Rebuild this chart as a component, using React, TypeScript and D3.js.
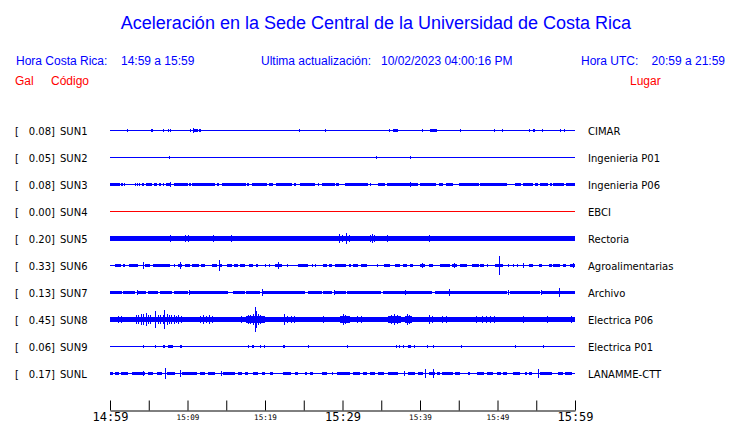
import { useRef, useEffect } from "react";
import { select, scaleLinear, scalePoint, axisBottom } from "d3";

// [start minute, end minute, peak acceleration in Gal], minutes counted from 14:59
type Seg = [number, number, number];

const title = "Aceleración en la Sede Central de la Universidad de Costa Rica";
const localLabel = "Hora Costa Rica:";
const localRange = "14:59 a 15:59";
const updateLabel = "Ultima actualización:";
const updateTime = "10/02/2023 04:00:16 PM";
const utcLabel = "Hora UTC:";
const utcRange = "20:59 a 21:59";

const stations = ["SUN1", "SUN2", "SUN3", "SUN4", "SUN5", "SUN6", "SUN7", "SUN8", "SUN9", "SUNL"];
const places = [
  "CIMAR", "Ingenieria P01", "Ingenieria P06", "EBCI", "Rectoria",
  "Agroalimentarias", "Archivo", "Electrica P06", "Electrica P01", "LANAMME-CTT",
];
const peaks = [0.08, 0.05, 0.08, 0.0, 0.2, 0.33, 0.13, 0.45, 0.06, 0.17];
const tickLabels = ["14:59", "", "15:09", "", "15:19", "", "15:29", "", "15:39", "", "15:49", "", "15:59"];
const bigTicks = ["14:59", "15:29", "15:59"];

const sun1: Seg[] = [
  [2.2, 2.3, 0.02], [5.3, 5.6, 0.04], [6.9, 7.0, 0.04], [7.5, 7.55, 0.03], [7.8, 7.85, 0.02],
  [10.3, 10.5, 0.04], [10.7, 10.8, 0.08], [10.9, 11.3, 0.05], [11.5, 11.7, 0.04],
  [24.4, 24.4, 0.03], [27.8, 27.9, 0.04], [36.0, 36.0, 0.03], [36.5, 37.2, 0.04],
  [40.2, 40.3, 0.04], [41.3, 42.2, 0.05], [45.2, 45.2, 0.03], [49.5, 49.5, 0.03],
  [50.6, 50.6, 0.03], [54.0, 54.0, 0.02], [54.6, 54.85, 0.03], [55.8, 55.8, 0.02],
  [58.0, 58.25, 0.03], [58.6, 58.6, 0.02],
];
const sun2: Seg[] = [[7.6, 7.8, 0.05], [34.3, 34.3, 0.02], [38.7, 38.9, 0.05]];
const sun3: Seg[] = [
  [0, 0.5, 0.03], [0.55, 1.3, 0.03], [1.4, 1.4, 0.02], [1.6, 1.6, 0.02], [1.85, 1.85, 0.02],
  [3.2, 3.2, 0.02], [3.45, 3.45, 0.02], [3.7, 3.9, 0.03], [4.1, 4.1, 0.02], [4.3, 4.4, 0.02],
  [4.6, 5.4, 0.04], [5.7, 6.1, 0.03], [6.3, 6.6, 0.04], [6.8, 7.0, 0.03], [7.2, 7.9, 0.04],
  [7.7, 7.7, 0.08], [8.3, 10.0, 0.04], [10.2, 10.5, 0.03], [10.6, 13.5, 0.04], [13.8, 14.1, 0.03],
  [14.4, 17.5, 0.04], [17.7, 17.9, 0.03], [18.3, 20.2, 0.04], [20.5, 21.0, 0.03], [21.4, 23.5, 0.04],
  [23.8, 24.0, 0.02], [24.5, 26.5, 0.04], [26.8, 26.9, 0.02], [27.3, 29.0, 0.04], [29.2, 29.6, 0.03],
  [30.3, 33.3, 0.04], [33.6, 33.6, 0.02], [34.6, 35.5, 0.03], [35.7, 39.8, 0.04], [38.7, 38.7, 0.06],
  [40.0, 42.1, 0.04], [42.4, 43.0, 0.04], [43.4, 44.3, 0.04], [45.0, 47.6, 0.04], [47.8, 51.2, 0.04],
  [52.3, 53.0, 0.03], [53.3, 54.6, 0.04], [54.9, 55.2, 0.02], [55.5, 56.5, 0.03], [56.8, 57.0, 0.02],
  [57.2, 58.6, 0.04], [58.9, 60, 0.03],
];
const sun4: Seg[] = [];
const sun5: Seg[] = [
  [0, 26.9, 0.07], [26.9, 29.5, 0.06], [29.5, 60, 0.07],
  [0.6, 0.6, 0.09], [1.9, 1.9, 0.08], [2.3, 2.3, 0.08], [3.9, 3.9, 0.09], [4.8, 4.8, 0.09], [5.0, 5.0, 0.08],
  [7.3, 7.3, 0.09], [7.75, 7.75, 0.11], [7.95, 7.95, 0.09], [9.7, 9.7, 0.1], [10.0, 10.0, 0.11],
  [11.8, 11.8, 0.08], [13.3, 13.3, 0.1], [15.6, 15.6, 0.1], [15.8, 15.8, 0.09], [16.4, 16.4, 0.08],
  [16.9, 16.9, 0.08], [20.2, 20.2, 0.08], [21.7, 21.7, 0.08], [23.2, 23.2, 0.08], [26.0, 26.0, 0.09],
  [29.6, 29.6, 0.14], [29.9, 29.9, 0.1], [30.45, 30.45, 0.2], [30.8, 30.8, 0.1], [32.0, 32.0, 0.08],
  [33.6, 33.6, 0.12], [33.85, 33.85, 0.15], [34.1, 34.1, 0.11], [35.8, 35.8, 0.1], [36.1, 36.1, 0.09],
  [38.1, 38.1, 0.09], [40.0, 40.0, 0.08], [41.1, 41.1, 0.1], [43.9, 43.9, 0.09], [46.0, 46.0, 0.08],
  [48.2, 48.2, 0.08], [51.8, 51.8, 0.08], [55.5, 55.5, 0.08], [59.1, 59.1, 0.08],
];
const sun6: Seg[] = [
  [0.65, 1.4, 0.04], [1.7, 1.95, 0.02], [2.45, 3.65, 0.04], [4.2, 4.45, 0.1], [4.5, 5.15, 0.04],
  [5.6, 5.8, 0.02], [5.8, 7.75, 0.04], [8.2, 8.2, 0.02], [8.75, 9.35, 0.04], [9.0, 9.0, 0.1],
  [9.7, 10.3, 0.04], [10.6, 11.5, 0.04], [11.8, 12.2, 0.02], [13.1, 13.8, 0.05], [14.05, 14.05, 0.18],
  [14.2, 14.5, 0.05], [15.05, 15.7, 0.04], [16.05, 16.5, 0.04], [16.8, 17.4, 0.04], [17.9, 18.4, 0.04],
  [18.8, 19.05, 0.04], [20.0, 20.0, 0.02], [20.5, 20.5, 0.02], [21.3, 22.15, 0.04], [21.7, 21.7, 0.11],
  [22.8, 22.8, 0.02], [24.3, 25.6, 0.04], [26.0, 26.0, 0.02], [26.45, 26.45, 0.02], [27.5, 27.95, 0.04],
  [28.25, 28.6, 0.03], [29.0, 30.45, 0.04], [30.9, 31.1, 0.02], [31.3, 32.0, 0.04], [32.4, 33.1, 0.04],
  [34.4, 34.4, 0.02], [35.3, 36.1, 0.04], [36.8, 37.4, 0.04], [37.8, 38.3, 0.04], [38.7, 39.05, 0.04],
  [40.0, 40.6, 0.04], [40.3, 40.3, 0.06], [41.1, 41.7, 0.04], [42.6, 43.9, 0.04], [44.1, 44.8, 0.04],
  [44.4, 44.4, 0.08], [45.2, 46.0, 0.03], [46.7, 47.65, 0.04], [47.8, 48.2, 0.02], [48.7, 48.7, 0.02],
  [49.7, 50.75, 0.04], [50.24, 50.24, 0.33], [51.4, 51.4, 0.02], [52.0, 52.0, 0.02], [52.5, 52.7, 0.03],
  [53.3, 53.3, 0.07], [54.0, 54.6, 0.04], [55.3, 55.7, 0.04], [56.6, 57.0, 0.04], [57.2, 58.1, 0.04],
  [58.4, 58.9, 0.04], [59.3, 60, 0.04], [59.8, 59.8, 0.08],
];
const sun7: Seg[] = [
  [0, 1.5, 0.05], [1.7, 3.2, 0.05], [3.45, 3.45, 0.08], [3.6, 4.7, 0.05], [4.95, 6.2, 0.04],
  [6.45, 8.0, 0.05], [8.2, 10.1, 0.05], [10.25, 10.25, 0.08], [10.3, 15.2, 0.05], [15.9, 17.4, 0.05],
  [17.6, 19.4, 0.05], [19.55, 19.55, 0.1], [19.8, 25.2, 0.05], [25.6, 27.3, 0.05], [27.5, 28.6, 0.05],
  [28.95, 28.95, 0.08], [29.0, 30.5, 0.05], [30.6, 33.5, 0.05], [33.6, 35.0, 0.05], [35.2, 41.5, 0.05],
  [38.0, 38.0, 0.07], [41.9, 51.2, 0.05], [43.75, 43.75, 0.11], [51.4, 51.4, 0.08], [51.6, 55.5, 0.05],
  [55.6, 55.6, 0.06], [55.8, 60, 0.05], [57.9, 57.9, 0.13],
];
const sun8: Seg[] = [
  [0, 60, 0.06],
  [0.85, 1.7, 0.08], [1.0, 1.0, 0.1], [1.4, 1.4, 0.1],
  [3.2, 5.4, 0.09], [3.3, 3.3, 0.15], [3.55, 3.55, 0.13], [4.0, 4.0, 0.2], [4.3, 4.3, 0.17],
  [4.6, 4.6, 0.21], [4.9, 4.9, 0.16], [5.2, 5.2, 0.14],
  [5.7, 9.5, 0.09], [5.85, 5.85, 0.29], [6.2, 6.2, 0.15], [6.5, 6.5, 0.13], [6.8, 6.8, 0.15],
  [7.0, 7.0, 0.33], [7.3, 7.3, 0.17], [7.6, 7.6, 0.14], [7.9, 7.9, 0.13], [8.2, 8.2, 0.15],
  [8.5, 8.5, 0.12], [8.8, 8.8, 0.13], [9.2, 9.2, 0.11],
  [11.4, 13.55, 0.09], [11.6, 11.6, 0.12], [12.0, 12.0, 0.13], [12.4, 12.4, 0.11], [12.8, 12.8, 0.13],
  [13.2, 13.2, 0.1], [16.6, 17.4, 0.08], [16.9, 16.9, 0.1],
  [17.6, 20.0, 0.1], [17.8, 17.8, 0.16], [18.1, 18.1, 0.14], [18.4, 18.4, 0.18], [18.7, 18.7, 0.45],
  [18.9, 18.9, 0.3], [19.1, 19.1, 0.2], [19.4, 19.4, 0.16], [19.7, 19.7, 0.12],
  [20.2, 21.1, 0.08], [20.6, 20.6, 0.09], [22.2, 23.9, 0.09], [22.4, 22.4, 0.18], [22.8, 22.8, 0.12],
  [23.3, 23.3, 0.1], [23.7, 23.7, 0.1], [24.1, 24.7, 0.08], [24.9, 26.9, 0.07], [25.3, 25.3, 0.09],
  [26.1, 26.1, 0.08], [27.1, 27.95, 0.08], [27.5, 27.5, 0.1], [28.2, 29.7, 0.08], [28.8, 28.8, 0.09],
  [29.7, 31.0, 0.1], [30.0, 30.0, 0.18], [30.3, 30.3, 0.14], [30.7, 30.7, 0.12],
  [31.6, 32.9, 0.08], [31.9, 31.9, 0.12], [32.4, 32.4, 0.1],
  [35.9, 37.6, 0.1], [36.2, 36.2, 0.14], [36.6, 36.6, 0.18], [37.0, 37.0, 0.15], [37.3, 37.3, 0.12],
  [38.1, 39.0, 0.1], [38.3, 38.3, 0.18], [38.6, 38.6, 0.14], [39.4, 39.4, 0.09], [40.2, 40.2, 0.09],
  [40.9, 42.1, 0.09], [41.2, 41.2, 0.14], [41.6, 41.6, 0.12], [42.4, 43.9, 0.08], [42.8, 42.8, 0.1],
  [43.4, 43.4, 0.1], [46.9, 47.5, 0.08], [47.2, 47.2, 0.11],
  [47.7, 49.9, 0.09], [48.0, 48.0, 0.12], [48.5, 48.5, 0.1], [49.0, 49.0, 0.12], [49.5, 49.5, 0.1],
  [51.4, 52.7, 0.08], [51.9, 51.9, 0.09], [52.9, 53.8, 0.08], [53.3, 53.3, 0.1],
  [56.1, 56.8, 0.08], [56.4, 56.4, 0.1], [59.1, 59.8, 0.09], [59.5, 59.5, 0.12],
];
const sun9: Seg[] = [
  [4.3, 4.3, 0.03], [5.8, 5.8, 0.03], [6.9, 7.1, 0.04], [7.45, 8.15, 0.05], [9.05, 9.35, 0.04],
  [17.85, 17.85, 0.03], [18.3, 18.6, 0.04], [19.35, 19.35, 0.03], [19.9, 19.9, 0.02], [22.3, 22.6, 0.03],
  [25.6, 25.6, 0.03], [30.55, 30.55, 0.04], [36.9, 36.9, 0.02], [37.35, 37.35, 0.02], [37.75, 37.75, 0.03],
  [38.4, 38.9, 0.04], [39.2, 39.2, 0.04], [40.95, 40.95, 0.03], [41.65, 41.65, 0.03], [45.25, 45.25, 0.03],
  [52.25, 52.25, 0.03], [55.9, 55.9, 0.04],
];
const sunl: Seg[] = [
  [0, 0.45, 0.04], [0.65, 1.1, 0.04], [1.4, 2.35, 0.04], [2.8, 3.65, 0.03], [3.65, 4.5, 0.04],
  [4.3, 4.3, 0.07], [4.95, 5.6, 0.04], [6.0, 6.65, 0.04], [7.1, 7.1, 0.17], [7.3, 8.4, 0.05],
  [9.05, 9.05, 0.11], [9.25, 11.2, 0.04], [11.6, 12.25, 0.04], [12.7, 13.55, 0.04], [14.3, 14.3, 0.08],
  [14.6, 16.1, 0.04], [16.55, 17.0, 0.03], [17.4, 17.85, 0.04], [18.5, 19.15, 0.04], [19.6, 20.0, 0.02],
  [20.65, 21.05, 0.03], [22.35, 23.4, 0.03], [23.9, 24.3, 0.03], [25.1, 25.4, 0.03], [25.8, 26.25, 0.04],
  [27.3, 27.95, 0.04], [28.6, 28.6, 0.03], [29.25, 30.3, 0.04], [30.1, 31.0, 0.04], [31.3, 32.25, 0.04],
  [32.7, 33.1, 0.03], [33.55, 34.2, 0.03], [34.6, 35.3, 0.03], [35.9, 37.2, 0.04], [37.9, 37.9, 0.07],
  [38.5, 39.35, 0.04], [39.8, 40.4, 0.04], [40.65, 40.65, 0.14], [41.1, 41.95, 0.04], [41.7, 41.7, 0.14],
  [42.2, 42.6, 0.04], [42.8, 44.3, 0.04], [44.5, 45.2, 0.04], [46.2, 46.5, 0.03], [47.3, 48.2, 0.04],
  [48.6, 49.4, 0.04], [49.9, 50.5, 0.04], [50.7, 51.2, 0.04], [52.0, 52.9, 0.03], [53.6, 53.8, 0.03],
  [54.0, 54.4, 0.03], [55.2, 55.2, 0.14], [55.5, 57.0, 0.04], [57.85, 58.5, 0.04], [58.7, 59.6, 0.03],
];
const traces = [sun1, sun2, sun3, sun4, sun5, sun6, sun7, sun8, sun9, sunl];

export default function App() {
  const ref = useRef<SVGSVGElement | null>(null);

  useEffect(() => {
    const svg = select(ref.current!);
    svg.selectAll("*").remove();

    const x = scaleLinear().domain([0, 60]).range([110, 575]);
    const row = scalePoint<string>().domain(stations).range([130.5, 373.5]);
    const amp = scaleLinear().domain([0, 1]).range([0, 27]); // px per Gal

    const blue = "#0000ff";
    const red = "#ff0000";

    // header
    const head = svg.append("g").attr("font-family", "'Liberation Sans', Arial, sans-serif");
    head.append("text").attr("x", 376).attr("y", 29).attr("text-anchor", "middle")
      .attr("font-size", 18).attr("fill", blue).text(title);
    const line2 = [
      [16, localLabel], [121, localRange], [261, updateLabel], [381, updateTime], [581, utcLabel],
    ] as [number, string][];
    line2.forEach(([px, s]) => {
      head.append("text").attr("x", px).attr("y", 65).attr("font-size", 12).attr("fill", blue).text(s);
    });
    head.append("text").attr("x", 725).attr("y", 65).attr("text-anchor", "end")
      .attr("font-size", 12).attr("fill", blue).text(utcRange);
    head.append("text").attr("x", 15).attr("y", 85).attr("font-size", 12).attr("fill", red).text("Gal");
    head.append("text").attr("x", 51).attr("y", 85).attr("font-size", 12).attr("fill", red).text("Código");
    head.append("text").attr("x", 630).attr("y", 85).attr("font-size", 12).attr("fill", red).text("Lugar");

    // traces
    stations.forEach((code, i) => {
      const cy = row(code)!;
      const color = code === "SUN4" ? red : blue;
      const g = svg.append("g");
      g.append("line").attr("x1", x(0)).attr("x2", x(60)).attr("y1", cy).attr("y2", cy)
        .attr("stroke", color).attr("stroke-width", 1).attr("shape-rendering", "crispEdges");
      g.selectAll("rect").data(traces[i]).join("rect")
        .attr("x", (d) => x(d[0]))
        .attr("width", (d) => Math.max(1, x(d[1]) - x(d[0])))
        .attr("y", (d) => cy - amp(d[2]) - 0.5)
        .attr("height", (d) => 2 * amp(d[2]) + 1)
        .attr("fill", color)
        .attr("shape-rendering", "crispEdges");

      const lbl = svg.append("g").attr("font-family", "'DejaVu Sans', sans-serif")
        .attr("font-size", 10).attr("fill", "#000");
      lbl.append("text").attr("x", 15).attr("y", cy + 4).text("[");
      lbl.append("text").attr("x", 55).attr("y", cy + 4).attr("text-anchor", "end")
        .text(peaks[i].toFixed(2) + "]");
      lbl.append("text").attr("x", 60).attr("y", cy + 4).text(code);
      lbl.append("text").attr("x", 588).attr("y", cy + 4).text(places[i]);
    });

    // time axis
    const axis = axisBottom(x)
      .tickValues(tickLabels.map((_, i) => i * 5))
      .tickSizeInner(-10)
      .tickSizeOuter(0)
      .tickFormat((_, i) => tickLabels[i]);
    const ax = svg.append("g").attr("transform", "translate(0,410.5)").call(axis as any);
    ax.attr("font-family", "'DejaVu Sans Mono', monospace").attr("color", "#000");
    ax.selectAll("text")
      .attr("dy", null)
      .attr("y", (_, i) => (bigTicks.includes(tickLabels[i]) ? 10.5 : 9.5))
      .attr("font-size", (_, i) => (bigTicks.includes(tickLabels[i]) ? 12 : 7.6))
      .attr("fill", "#000");
  }, []);

  return (
    <svg
      ref={ref}
      width={740}
      height={423}
      style={{ position: "absolute", left: 0, top: 0, background: "#fff" }}
    ></svg>
  );
}
